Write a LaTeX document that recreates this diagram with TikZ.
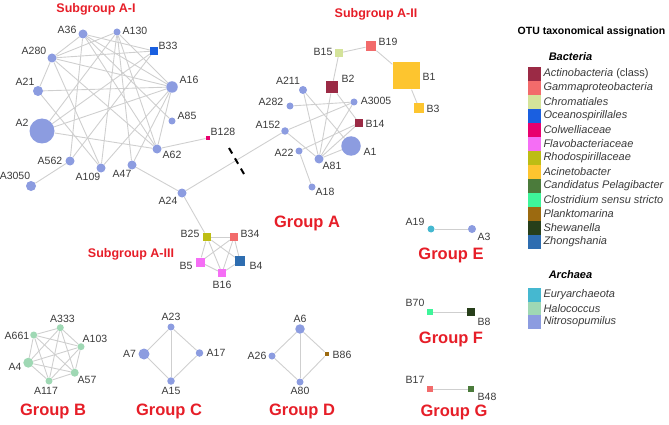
\documentclass[tikz,border=0pt]{standalone}
\usepackage{fontspec}
\setmainfont{Liberation Sans}
\pgfdeclarelayer{edges}
\pgfsetlayers{edges,main}
\definecolor{actino}{HTML}{9B2A45}
\definecolor{gamma}{HTML}{F26B6B}
\definecolor{chrom}{HTML}{D4E39A}
\definecolor{ocean}{HTML}{1A5FE0}
\definecolor{colw}{HTML}{E8006E}
\definecolor{flavo}{HTML}{F56EF5}
\definecolor{rhodo}{HTML}{BDBD14}
\definecolor{acin}{HTML}{FDC52F}
\definecolor{pelag}{HTML}{4B7B3B}
\definecolor{clost}{HTML}{3EF59A}
\definecolor{plank}{HTML}{9C6A10}
\definecolor{shew}{HTML}{273F1A}
\definecolor{zhong}{HTML}{2E6DB0}
\definecolor{eury}{HTML}{45B8D0}
\definecolor{halo}{HTML}{9FD8B4}
\definecolor{nitro}{HTML}{8C9CE0}
\definecolor{edgegray}{HTML}{CFCFCF}
\definecolor{labgray}{HTML}{3A3A3A}
\definecolor{grpred}{HTML}{E61E28}
\tikzset{
  otu/.style={circle, inner sep=0pt, minimum size=#1, fill=nitro},
  sq/.style={rectangle, inner sep=0pt, minimum size=#1},
  lab/.style={font=\fontsize{10.5}{12}\selectfont, text=labgray, inner sep=0pt},
  grp/.style={font=\bfseries\fontsize{16.5}{18}\selectfont, text=grpred, inner sep=0pt},
  sub/.style={font=\bfseries\fontsize{12.5}{14}\selectfont, text=grpred, inner sep=0pt},
  link/.style={draw=edgegray, line width=0.9pt},
  legsq/.style={rectangle, inner sep=0pt, minimum width=13pt, minimum height=14pt},
  legtxt/.style={font=\itshape\fontsize{11}{12}\selectfont, text=labgray, inner sep=0pt, anchor=west},
  leghead/.style={font=\bfseries\itshape\fontsize{11}{12}\selectfont, text=black, inner sep=0pt},
}
\begin{document}
\begin{tikzpicture}[x=1pt,y=-1pt]
\useasboundingbox (0,0) rectangle (669,425);

% ---------------- Subgroup A-I
\node[sub] (subAI) at (96,9) {Subgroup A-I};
\node[otu=9] (A36) at (83,34) {};
\node[otu=7] (A130) at (117,32) {};
\node[sq=7.5, fill=ocean] (B33) at (154,51) {};
\node[otu=9] (A280) at (52,58) {};
\node[otu=11.5] (A16) at (172,87) {};
\node[otu=10] (A21) at (38,91) {};
\node[otu=7] (A85) at (172,121) {};
\node[otu=25] (A2) at (42,131) {};
\node[sq=4.5, fill=colw] (B128) at (208,138) {};
\node[otu=9] (A62) at (157,149) {};
\node[otu=9] (A562) at (70,161) {};
\node[otu=9] (A109) at (101,168) {};
\node[otu=9] (A47) at (132,165) {};
\node[otu=10] (A3050) at (31,186) {};
\node[otu=9] (A24) at (182,193) {};

\node[lab] (tA36) at (67,30) {A36};
\node[lab] (tA130) at (135,31) {A130};
\node[lab] (tB33) at (168,46) {B33};
\node[lab] (tA280) at (34,51) {A280};
\node[lab] (tA16) at (189,80) {A16};
\node[lab] (tA21) at (25,82) {A21};
\node[lab] (tA85) at (187,116) {A85};
\node[lab] (tA2) at (22,123) {A2};
\node[lab] (tB128) at (223,132) {B128};
\node[lab] (tA62) at (172,155) {A62};
\node[lab] (tA562) at (50,161) {A562};
\node[lab] (tA109) at (88,177) {A109};
\node[lab] (tA47) at (122,174) {A47};
\node[lab] (tA3050) at (15,176) {A3050};
\node[lab] (tA24) at (168,201) {A24};

% ---------------- Subgroup A-II
\node[sub] (subAII) at (376,14) {Subgroup A-II};
\node[sq=10.5, fill=gamma] (B19) at (371,46) {};
\node[sq=7.5, fill=chrom] (B15) at (339,53) {};
\node[sq=27, fill=acin] (B1) at (406,76) {};
\node[sq=9.5, fill=acin] (B3) at (419,108) {};
\node[sq=12.5, fill=actino] (B2) at (332,87) {};
\node[otu=8] (A211) at (303,90) {};
\node[otu=7] (A3005) at (354,102) {};
\node[otu=7] (A282) at (290,106) {};
\node[sq=7.5, fill=actino] (B14) at (359,123) {};
\node[otu=7.5] (A152) at (285,131) {};
\node[otu=19.5] (A1) at (351,146) {};
\node[otu=7] (A22) at (299,151) {};
\node[otu=9] (A81) at (319,159) {};
\node[otu=7] (A18) at (312,187) {};

\node[lab] (tB19) at (388,42) {B19};
\node[lab] (tB15) at (323,52) {B15};
\node[lab] (tB2) at (348,79) {B2};
\node[lab] (tB1) at (429,77) {B1};
\node[lab] (tB3) at (433,109) {B3};
\node[lab] (tA211) at (288,81) {A211};
\node[lab] (tA3005) at (376,101) {A3005};
\node[lab] (tA282) at (271,102) {A282};
\node[lab] (tB14) at (375,124) {B14};
\node[lab] (tA152) at (268,125) {A152};
\node[lab] (tA1) at (370,152) {A1};
\node[lab] (tA22) at (284,153) {A22};
\node[lab] (tA81) at (332,166) {A81};
\node[lab] (tA18) at (325,192) {A18};

\node[grp] (grpA) at (307,223) {Group A};

% ---------------- Subgroup A-III
\node[sub] (subAIII) at (131,254) {Subgroup A-III};
\node[sq=8.5, fill=rhodo] (B25) at (207,237) {};
\node[sq=8, fill=gamma] (B34) at (234,237) {};
\node[sq=9, fill=flavo] (B5) at (200,262) {};
\node[sq=10, fill=zhong] (B4) at (240,261) {};
\node[sq=8, fill=flavo] (B16) at (222,273) {};
\node[lab] (tB25) at (190,234) {B25};
\node[lab] (tB34) at (250,234) {B34};
\node[lab] (tB5) at (186,266) {B5};
\node[lab] (tB4) at (256,266) {B4};
\node[lab] (tB16) at (222,285) {B16};

% ---------------- Group B
\node[otu=7, fill=halo] (A333) at (60.3,327.7) {};
\node[otu=7, fill=halo] (A661) at (33.7,335) {};
\node[otu=7, fill=halo] (A103) at (81,346.7) {};
\node[otu=10, fill=halo] (A4) at (28.3,362.7) {};
\node[otu=8, fill=halo] (A57) at (74.7,372.7) {};
\node[otu=7, fill=halo] (A117) at (49,381) {};
\node[lab] (tA333) at (62.5,319) {A333};
\node[lab] (tA661) at (17,335.5) {A661};
\node[lab] (tA103) at (95,339) {A103};
\node[lab] (tA4) at (15,367) {A4};
\node[lab] (tA57) at (87,380) {A57};
\node[lab] (tA117) at (46,391) {A117};
\node[grp] (grpB) at (53,411) {Group B};

% ---------------- Group C
\node[otu=7] (A23) at (171,327) {};
\node[otu=11] (A7) at (144,354) {};
\node[otu=7.5] (A17) at (199.5,353) {};
\node[otu=7.5] (A15) at (171,381) {};
\node[lab] (tA23) at (171,317) {A23};
\node[lab] (tA7) at (129.5,354) {A7};
\node[lab] (tA17) at (216,353) {A17};
\node[lab] (tA15) at (171,391) {A15};
\node[grp] (grpC) at (169,411) {Group C};

% ---------------- Group D
\node[otu=9.5] (A6) at (300,329) {};
\node[otu=7] (A26) at (272,356) {};
\node[sq=4.5, fill=plank] (B86) at (327,354) {};
\node[otu=7] (A80) at (300,382) {};
\node[lab] (tA6) at (300,319) {A6};
\node[lab] (tA26) at (257,356) {A26};
\node[lab] (tB86) at (342,355) {B86};
\node[lab] (tA80) at (300,391) {A80};
\node[grp] (grpD) at (302,411) {Group D};

% ---------------- Groups E, F, G
\node[otu=7, fill=eury] (A19) at (431,229) {};
\node[otu=8] (A3) at (472,229) {};
\node[lab] (tA19) at (415,222) {A19};
\node[lab] (tA3) at (484,237) {A3};
\node[grp] (grpE) at (451,255) {Group E};

\node[sq=6.5, fill=clost] (B70) at (430,312) {};
\node[sq=8.5, fill=shew] (B8) at (471,312) {};
\node[lab] (tB70) at (415,303) {B70};
\node[lab] (tB8) at (484,322) {B8};
\node[grp] (grpF) at (451,339) {Group F};

\node[sq=6.5, fill=gamma] (B17) at (430,389) {};
\node[sq=6.5, fill=pelag] (B48) at (471,389) {};
\node[lab] (tB17) at (415,380) {B17};
\node[lab] (tB48) at (487,397) {B48};
\node[grp] (grpG) at (454,412) {Group G};

% ---------------- Legend
\node[font=\bfseries\fontsize{10.5}{12}\selectfont, inner sep=0pt] (legtitle) at (591.5,32) {OTU taxonomical assignation};
\node[leghead] (legbac) at (570.5,56.5) {Bacteria};
\foreach \c/\t [count=\i from 0] in {actino/{Actinobacteria\upshape{} (class)}, gamma/Gammaproteobacteria, chrom/Chromatiales, ocean/Oceanospirillales, colw/Colwelliaceae, flavo/Flavobacteriaceae, rhodo/Rhodospirillaceae, acin/Acinetobacter, pelag/Candidatus Pelagibacter, clost/Clostridium sensu stricto, plank/Planktomarina, shew/Shewanella, zhong/Zhongshania}{
  \node[legsq, fill=\c] (k\i) at (534.7,{73.7+14.03*\i}) {};
  \node[legtxt] (lt\i) at (543.3,{73.7+14.03*\i}) {\t};
}
\node[leghead] (legarc) at (570.5,275) {Archaea};
\foreach \c/\t [count=\i from 0] in {eury/Euryarchaeota, halo/Halococcus, nitro/Nitrosopumilus}{
  \node[legsq, minimum height=13.5pt, fill=\c] (ka\i) at (534.7,{294.8+13.6*\i}) {};
  \node[legtxt] (lta\i) at (543.3,{294.8+13.6*\i}) {\t};
}

% ---------------- Break mark
\draw[black, line width=2pt, dash pattern=on 6.3pt off 5.6pt] (229,148) -- (244,174);

% ---------------- Edges
\begin{pgfonlayer}{edges}
% A-I
\foreach \a/\b in {A36/B33, A36/A16, A36/A62, A36/A562, A36/A85, A36/A280,
  A130/A280, A130/A2, A130/A16, A130/A62, A130/A47, A130/A109,
  A280/B33, A280/A16, A280/A21, A280/A109, A280/A62,
  A21/A16, A21/A109, A2/B33, A2/A16, A2/A62, A562/B33, A562/A3050,
  A16/A109, A16/A47, A16/A62, A62/B128, A47/A24, A24/A152}
  \draw[link] (\a) -- (\b);
% A-II
\foreach \a/\b in {B15/B19, B19/B1, B1/B3, B15/B2, B2/B14, B2/A81,
  A211/A81, A211/A1, A282/A3005, A152/A3005, A152/A81,
  A22/A18, A22/B14, A81/A1, A81/B14, A81/A3005}
  \draw[link] (\a) -- (\b);
% A-III
\foreach \a/\b in {A24/B25, B25/B34, B25/B5, B25/B16, B25/B4, B34/B5, B34/B16, B34/B4, B5/B16, B16/B4}
  \draw[link] (\a) -- (\b);
% Group B (complete)
\foreach \a/\b in {A333/A661, A333/A103, A333/A4, A333/A57, A333/A117,
  A661/A103, A661/A4, A661/A57, A661/A117, A103/A4, A103/A57, A103/A117,
  A4/A57, A4/A117, A57/A117}
  \draw[link] (\a) -- (\b);
% Group C
\foreach \a/\b in {A23/A7, A23/A17, A23/A15, A7/A15, A17/A15}
  \draw[link] (\a) -- (\b);
% Group D
\foreach \a/\b in {A6/A26, A6/A80, A6/B86, A26/A80, B86/A80}
  \draw[link] (\a) -- (\b);
% E, F, G
\draw[link] (A19) -- (A3);
\draw[link] (B70) -- (B8);
\draw[link] (B17) -- (B48);
\end{pgfonlayer}
\end{tikzpicture}
\end{document}
